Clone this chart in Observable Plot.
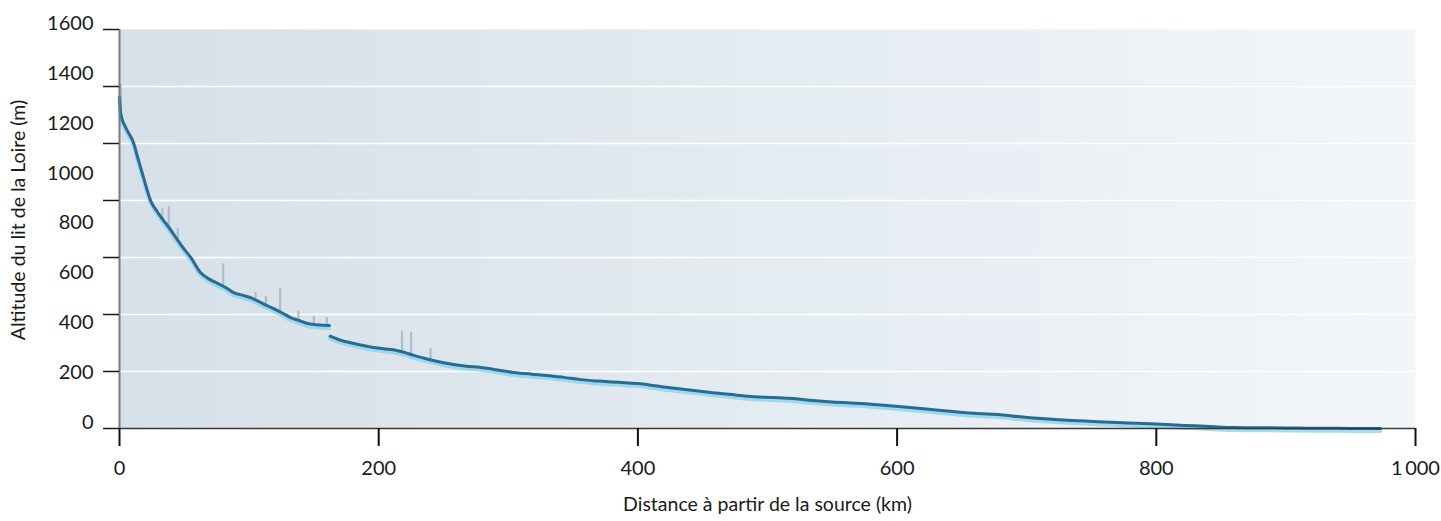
<!DOCTYPE html>
<html>
<head>
<meta charset="utf-8">
<script src="https://cdn.jsdelivr.net/npm/d3@7"></script>
<script src="https://cdn.jsdelivr.net/npm/@observablehq/plot@0.6"></script>
<style>
  html, body { margin: 0; padding: 0; background: #ffffff; }
  #chart { width: 1441px; height: 521px; }
</style>
</head>
<body>
<div id="chart"></div>
<script>
// Profil en long de la Loire
const distanceKm = [0, 1, 5, 11, 14, 18.5, 24, 29, 34, 39, 45, 50, 55, 62.5, 69, 76, 82, 88, 96, 103, 111, 119, 126, 132, 139, 145, 152, 158, 162,
  162.5, 170, 180, 196, 214, 220, 227, 235, 242, 250, 258, 268, 279, 290, 304, 318, 330, 343, 356, 370, 385, 400, 415, 430, 445, 456, 470, 490, 505, 520, 535, 550, 572, 590, 610, 630, 645, 662, 680, 695, 711, 725, 740, 755, 770, 785, 800, 815, 830, 845, 860, 880, 900, 920, 940, 960, 973];
const altitudeM = [1330, 1260, 1205, 1143, 1087, 1007, 914, 870, 834, 800, 754, 718, 686, 626, 600, 581, 565, 545, 533, 521, 500, 481, 462, 445, 432, 421, 416, 414, 413,
  370, 355, 342, 325, 313, 305, 293, 282, 273, 264, 257, 250, 245, 236, 225, 218, 213, 205, 196, 190, 185, 180, 170, 160, 151, 144, 137, 127, 124, 120, 112, 106, 100, 93, 84, 74, 67, 60, 55, 47, 40, 35, 31, 27, 24, 21, 18, 14, 11, 7, 4, 3, 2, 1, 1, 0, 0];
const barrageKm = 162.25; // rupture du profil (retenue)

// Pics pâles (confluences) : distance, base, sommet
const spikeKm   = [1, 33, 38, 45, 80, 105, 113, 124, 138, 150, 160, 218, 225, 240];
const spikeBase = [1260, 838, 805, 754, 570, 515, 495, 470, 435, 418, 413, 308, 296, 276];
const spikeTop  = [1380, 880, 890, 800, 660, 545, 530, 560, 470, 450, 445, 390, 385, 320];

const xTicks = [0, 200, 400, 600, 800, 1000];
const yLabels = [0, 200, 400, 600, 800, 1000, 1200, 1400, 1600];
const yTickMarks = [0, 228.6, 457.1, 685.7, 914.3, 1142.9, 1371.4, 1600];

const xTitle = "Distance à partir de la source (km)";
const yTitle = "Altitude du lit de la Loire (m)";

const profile = distanceKm.map((d, i) => ({km: d, alt: altitudeM[i], troncon: d < barrageKm ? "amont" : "aval"}));
const spikes = spikeKm.map((d, i) => ({km: d, base: spikeBase[i], top: spikeTop[i]}));

const chart = Plot.plot({
  width: 1441,
  height: 521,
  marginLeft: 119,
  marginRight: 26,
  marginTop: 29,
  marginBottom: 93,
  style: {fontFamily: "Lato, 'Open Sans', sans-serif", fontSize: "20px", color: "#1a1a1a", background: "#ffffff"},
  x: {domain: [0, 1000], axis: null},
  y: {domain: [0, 1600], axis: null},
  marks: [
    Plot.frame({fill: "url(#loireBg)", stroke: null}),
    Plot.gridY(yTickMarks.slice(1, -1), {stroke: "#ffffff", strokeOpacity: 1, strokeWidth: 1.6}),
    Plot.ruleX(spikes, {x: "km", y1: "base", y2: "top", stroke: "#a6b6c5", strokeWidth: 2.2, strokeOpacity: 0.85}),
    Plot.line(profile, {x: "km", y: "alt", z: "troncon", stroke: "#8ad4f0", strokeWidth: 4, dy: 2.5, strokeOpacity: 0.8, curve: "monotone-x"}),
    Plot.line(profile, {x: "km", y: "alt", z: "troncon", stroke: "#2a6b8f", strokeWidth: 3, curve: "monotone-x"}),
    Plot.ruleX([0], {stroke: "#7a7a7a", strokeWidth: 2}),
    Plot.ruleY([0], {stroke: "#3a3a3a", strokeWidth: 1.5}),
    Plot.axisY({ticks: yTickMarks, tickSize: 16, tickFormat: () => "", label: null, stroke: "#1a1a1a", strokeWidth: 1.5}),
    Plot.text(yLabels, {y: d => d, text: d => String(d), frameAnchor: "left", dx: -26, dy: -6, textAnchor: "end", fill: "#1a1a1a"}),
    Plot.axisX({ticks: xTicks, tickSize: 18, tickPadding: 14, strokeWidth: 2, stroke: "#111", label: null,
      tickFormat: d => d === 1000 ? "1\u2009000" : String(d)}),
    Plot.text([xTitle], {frameAnchor: "bottom", dy: 82, fill: "#1a1a1a", fontSize: 19.5, textAnchor: "middle"}),
    Plot.text([yTitle], {frameAnchor: "left", rotate: -90, dx: -101, dy: -9, fill: "#1a1a1a", fontSize: 19.5, textAnchor: "middle"})
  ]
});

// Dégradé de fond (bleu-gris à gauche, presque blanc à droite)
const ns = "http://www.w3.org/2000/svg";
const defs = document.createElementNS(ns, "defs");
defs.innerHTML = `<linearGradient id="loireBg" x1="0" y1="0" x2="1" y2="0">
  <stop offset="0" stop-color="#d6e0e8"/>
  <stop offset="0.5" stop-color="#e4ebf1"/>
  <stop offset="1" stop-color="#f2f6f9"/>
</linearGradient>`;
chart.insertBefore(defs, chart.firstChild);

document.getElementById("chart").appendChild(chart);
</script>
</body>
</html>
